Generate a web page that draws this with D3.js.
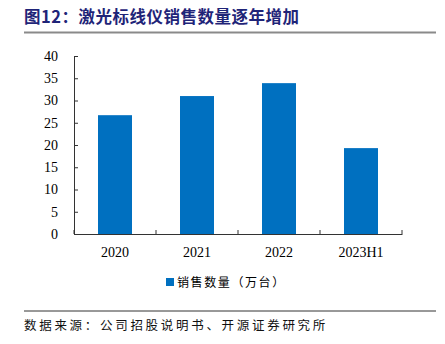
<!DOCTYPE html>
<html><head><meta charset="utf-8">
<script src="https://cdn.jsdelivr.net/npm/d3@7"></script>
<style>
html,body{margin:0;padding:0;background:#fff;}
svg{display:block;}
</style></head>
<body><svg id="c" width="445" height="344"></svg>
<script>
const categories = ["2020", "2021", "2022", "2023H1"];
const salesValues = [26.7, 31.0, 33.9, 19.3];
const yTicks = [0, 5, 10, 15, 20, 25, 30, 35, 40];
const titleText = "图12：激光标线仪销售数量逐年增加";
const legendLabel = "销售数量（万台）";
const sourceText = "数据来源：公司招股说明书、开源证券研究所";

const svg = d3.select("#c");
const cjk = "'Noto Sans CJK SC','Noto Sans',sans-serif";
const serif = "'Liberation Serif','Times New Roman',serif";

// title
svg.append("text").attr("x", 24).attr("y", 23)
  .attr("font-family", cjk).attr("font-weight", "bold").attr("font-size", 16.5)
  .attr("letter-spacing", 0.5)
  .attr("fill", "#1f2478").text(titleText);
svg.append("line").attr("x1", 24).attr("x2", 436).attr("y1", 32.5).attr("y2", 32.5)
  .attr("stroke", "#8a8a8a").attr("stroke-width", 2);

const bx = d3.scaleBand().domain(categories).range([74, 402]);
const y = d3.scaleLinear().domain([0, 40]).range([234, 56]);

svg.append("g").selectAll("rect").data(categories).join("rect")
  .attr("x", (d) => bx(d) + bx.bandwidth() / 2 - 17)
  .attr("width", 34)
  .attr("y", (d, i) => y(salesValues[i]))
  .attr("height", (d, i) => y(0) - y(salesValues[i]))
  .attr("fill", "#0070c0");

// y axis
const ya = svg.append("g").attr("transform", "translate(74,0)")
  .call(d3.axisLeft(y).tickValues(yTicks).tickSizeInner(-4).tickSizeOuter(-4).tickPadding(16));
ya.select(".domain").attr("stroke", "#333");
ya.selectAll(".tick line").attr("stroke", "#333");
ya.selectAll("text").attr("font-family", serif).attr("font-size", 14).attr("fill", "#000");

// x axis
const xa = svg.append("g").attr("transform", "translate(0,234)")
  .call(d3.axisBottom(bx).tickSize(0).tickPadding(13));
xa.select(".domain").attr("stroke", "#333");
xa.selectAll("text").attr("font-family", serif).attr("font-size", 14).attr("fill", "#000");
// category boundary ticks (inward)
svg.append("g").selectAll("line").data(categories.concat(["end"])).join("line")
  .attr("x1", (d, i) => i < categories.length ? bx(d) : bx.range()[1])
  .attr("x2", (d, i) => i < categories.length ? bx(d) : bx.range()[1])
  .attr("y1", 234).attr("y2", 230).attr("stroke", "#333");

// legend
svg.append("rect").attr("x", 166).attr("y", 278).attr("width", 8).attr("height", 8).attr("fill", "#0070c0");
svg.append("text").attr("x", 177).attr("y", 287)
  .attr("font-family", cjk).attr("font-size", 12).attr("letter-spacing", 1.6)
  .attr("fill", "#000").text(legendLabel);

// footer
svg.append("line").attr("x1", 24).attr("x2", 436).attr("y1", 311).attr("y2", 311)
  .attr("stroke", "#333").attr("stroke-width", 1);
svg.append("text").attr("x", 24).attr("y", 330)
  .attr("font-family", cjk).attr("font-size", 12.5).attr("letter-spacing", 2.7)
  .attr("fill", "#111").text(sourceText);
</script></body></html>
